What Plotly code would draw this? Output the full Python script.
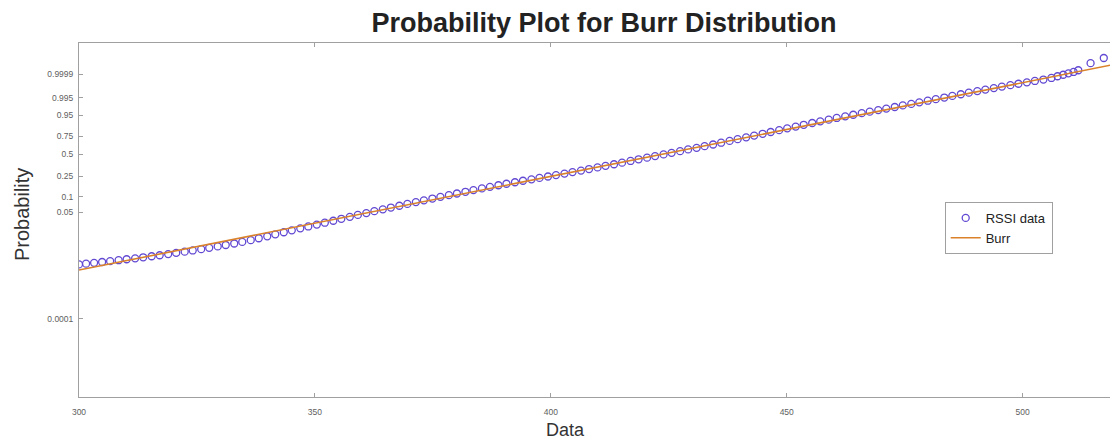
import plotly.graph_objects as go

# RSSI data points (x = data, y = position on the Burr probability scale)
rssi_x = [300.0, 301.5, 303.2, 304.9, 306.6, 308.4, 310.1, 311.9, 313.6, 315.4,
          317.1, 318.9, 320.6, 322.4, 324.1, 325.9, 327.6, 329.4, 331.1, 332.9,
          334.6, 336.4, 338.1, 339.9, 341.6, 343.4, 345.1, 346.9, 348.6, 350.4,
          352.1, 353.9, 355.6, 357.4, 359.1, 360.9, 362.6, 364.4, 366.1, 367.9,
          369.6, 371.4, 373.1, 374.9, 376.6, 378.4, 380.1, 381.9, 383.6, 385.4,
          387.1, 388.9, 390.6, 392.4, 394.1, 395.9, 397.6, 399.4, 401.1, 402.9,
          404.6, 406.4, 408.1, 409.9, 411.6, 413.4, 415.1, 416.9, 418.6, 420.4,
          422.1, 423.9, 425.6, 427.4, 429.1, 430.9, 432.6, 434.4, 436.1, 437.9,
          439.6, 441.4, 443.1, 444.9, 446.6, 448.4, 450.1, 451.9, 453.6, 455.4,
          457.1, 458.9, 460.6, 462.4, 464.1, 465.9, 467.6, 469.4, 471.1, 472.9,
          474.6, 476.4, 478.1, 479.9, 481.6, 483.4, 485.1, 486.9, 488.6, 490.4,
          492.1, 493.9, 495.6, 497.4, 499.1, 500.9, 502.6, 504.4, 506.1, 507.4,
          508.6, 509.7, 510.8, 511.8, 514.4, 517.2]
rssi_q = [306.0, 306.8, 307.7, 308.6, 309.5, 310.5, 311.5, 312.5, 313.6, 314.7,
          315.8, 317.0, 318.3, 319.6, 320.9, 322.3, 323.7, 325.2, 326.7, 328.3,
          330.0, 331.9, 333.9, 336.0, 338.1, 340.3, 342.4, 344.5, 346.5, 348.5,
          350.5, 352.6, 354.7, 356.8, 358.8, 360.8, 362.8, 364.8, 366.7, 368.6,
          370.6, 372.5, 374.4, 376.3, 378.1, 379.9, 381.7, 383.5, 385.3, 387.1,
          388.8, 390.5, 392.1, 393.7, 395.3, 396.8, 398.3, 399.8, 401.3, 402.9,
          404.5, 406.1, 407.8, 409.5, 411.2, 412.9, 414.6, 416.4, 418.2, 419.9,
          421.6, 423.4, 425.1, 426.9, 428.7, 430.4, 432.2, 434.0, 435.9, 437.8,
          439.7, 441.6, 443.5, 445.4, 447.3, 449.3, 451.2, 453.1, 455.0, 456.9,
          458.7, 460.5, 462.3, 464.0, 465.7, 467.4, 469.0, 470.7, 472.3, 474.0,
          475.7, 477.3, 479.0, 480.7, 482.4, 484.1, 485.8, 487.6, 489.3, 491.0,
          492.6, 494.2, 495.8, 497.3, 498.8, 500.3, 501.8, 503.3, 505.0, 506.8,
          508.4, 509.9, 511.4, 513.2, 520.8, 526.3]

# fitted Burr reference line (straight on the probability scale)
burr_x = [300, 520]
burr_q = [300, 520]

# probability tick labels and where they sit on the scale
prob_labels = ["0.0001", "0.05", "0.1", "0.25", "0.5", "0.75", "0.95", "0.995", "0.9999"]
prob_pos = [248.0, 361.6, 378.2, 400.3, 423.8, 443.0, 465.4, 483.9, 508.9]
x_ticks = [300, 350, 400, 450, 500]

fig = go.Figure()
fig.add_trace(go.Scatter(x=rssi_x, y=rssi_q, mode="markers", name="RSSI data",
                         marker=dict(symbol="circle-open", size=7, color="#6248d2",
                                     line=dict(width=1.3))))
fig.add_trace(go.Scatter(x=burr_x, y=burr_q, mode="lines", name="Burr",
                         line=dict(color="#d9822b", width=1.6)))

axis_style = dict(showline=True, linecolor="#a0a0a0", linewidth=1, mirror="ticks",
                  ticks="inside", ticklen=4, tickcolor="#a0a0a0", showgrid=False,
                  zeroline=False, tickfont=dict(size=8.5, color="#606060"))

fig.update_layout(
    width=1110, height=440,
    margin=dict(l=71, r=1, t=35, b=51),
    paper_bgcolor="white", plot_bgcolor="white",
    font=dict(family="Liberation Sans, Arial, sans-serif"),
    title=dict(text="<b>Probability Plot for Burr Distribution</b>", x=0.537, xanchor="center",
               y=0.968, yanchor="middle", font=dict(size=27, color="#222222")),
    xaxis=dict(range=[300, 520], tickvals=x_ticks, ticklabelstandoff=7, **axis_style),
    yaxis=dict(range=[164.5, 542.3], tickvals=prob_pos, ticktext=prob_labels,
               ticklabelstandoff=3, **axis_style),
    legend=dict(x=0.834, y=0.551, xanchor="left", yanchor="top",
                bordercolor="#a0a0a0", borderwidth=1, bgcolor="white",
                font=dict(size=13, color="#222222"), tracegroupgap=0),
    showlegend=True,
    annotations=[
        dict(text="Data", x=0.469, y=-0.093, xref="paper", yref="paper",
             showarrow=False, font=dict(size=18, color="#333333"),
             xanchor="center", yanchor="middle"),
        dict(text="Probability", x=-0.0549, y=0.514, xref="paper", yref="paper",
             showarrow=False, textangle=-90, font=dict(size=20, color="#333333"),
             xanchor="center", yanchor="middle"),
    ],
)

fig.write_html("out.html")
